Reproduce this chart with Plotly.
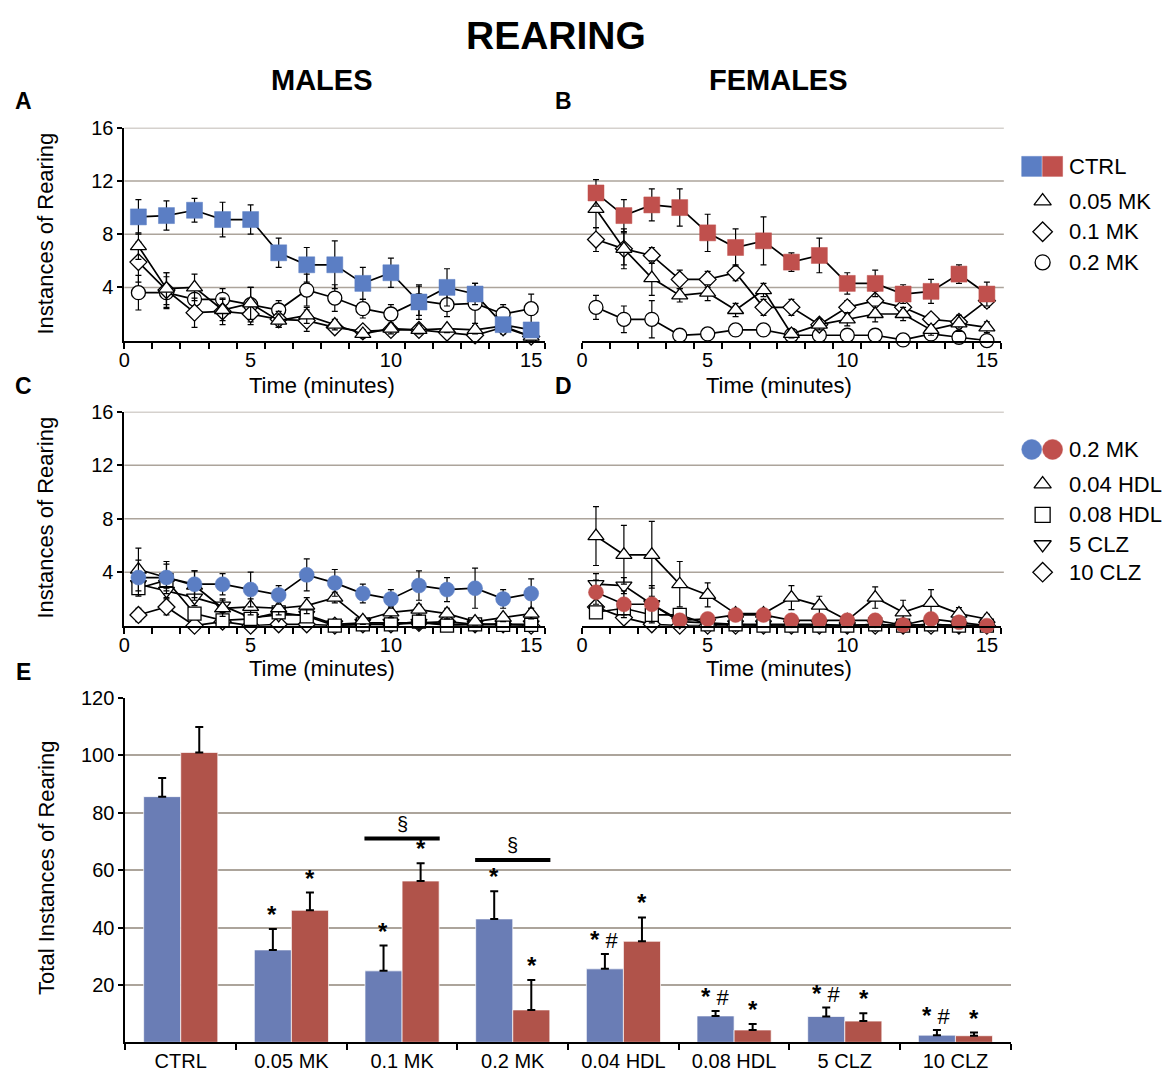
import plotly.graph_objects as go

W, H = 1164, 1074
FONT = "Liberation Sans, Arial, sans-serif"

# ---- time-course data (mean instances of rearing per 1-minute bin, with SEM) ----
minutes = list(range(1, 16))

# Males, panel A
m_ctrl = [9.3, 9.4, 9.8, 9.1, 9.1, 6.6, 5.7, 5.7, 4.3, 5.1, 2.9, 4.0, 3.5, 1.2, 0.8]
m_ctrl_se = [1.3, 1.1, 0.9, 1.3, 1.1, 1.1, 1.3, 1.8, 1.2, 1.1, 1.3, 1.4, 0.8, 0.5, 0.4]
m_mk005 = [7.1, 3.9, 4.0, 2.3, 2.8, 1.5, 1.9, 1.2, 0.5, 0.9, 0.8, 0.9, 0.8, 1.1, 0.3]
m_mk005_se = [1.0, 1.2, 1.0, 0.8, 1.2, 0.5, 0.6, 0.4, 0.3, 0.4, 0.3, 0.3, 0.3, 0.4, 0.3]
m_mk01 = [5.9, 3.8, 2.1, 2.2, 2.0, 1.6, 1.5, 1.0, 0.7, 0.8, 0.8, 0.6, 0.4, 1.0, 0.3]
m_mk01_se = [1.5, 1.3, 1.1, 1.0, 0.8, 0.6, 0.8, 0.4, 0.3, 0.3, 0.3, 0.4, 0.4, 0.5, 0.2]
m_mk02 = [3.6, 3.6, 3.1, 3.1, 2.7, 2.3, 3.8, 3.2, 2.4, 2.0, 3.0, 2.7, 2.8, 2.0, 2.4]
m_mk02_se = [1.3, 1.2, 1.0, 0.8, 1.3, 0.7, 1.2, 1.0, 0.7, 0.7, 1.1, 0.9, 1.5, 0.7, 1.1]

# Females, panel B
f_ctrl = [11.1, 9.4, 10.2, 10.0, 8.1, 7.0, 7.5, 5.9, 6.4, 4.3, 4.3, 3.5, 3.7, 5.0, 3.5]
f_ctrl_se = [1.0, 1.2, 1.2, 1.4, 1.4, 1.4, 1.8, 0.7, 1.3, 0.8, 1.0, 0.7, 0.9, 0.7, 0.9]
f_mk005 = [9.9, 6.9, 4.7, 3.4, 3.6, 2.3, 3.8, 0.5, 1.2, 1.6, 2.0, 2.0, 0.8, 1.3, 1.0]
f_mk005_se = [1.4, 1.5, 1.3, 0.5, 0.6, 0.5, 0.5, 0.3, 0.4, 0.5, 0.6, 0.5, 0.4, 0.6, 0.4]
f_mk01 = [7.6, 6.9, 6.4, 4.6, 4.6, 5.1, 2.5, 2.5, 1.2, 2.5, 3.0, 2.5, 1.6, 1.4, 3.0]
f_mk01_se = [0.9, 1.2, 0.6, 0.7, 0.6, 0.6, 0.6, 0.6, 0.3, 0.5, 0.7, 0.6, 0.4, 0.5, 0.5]
f_mk02 = [2.5, 1.6, 1.6, 0.4, 0.5, 0.8, 0.8, 0.4, 0.4, 0.4, 0.4, 0.05, 0.5, 0.25, 0.0]
f_mk02_se = [0.9, 1.0, 1.4, 0.2, 0.2, 0.2, 0.2, 0.2, 0.2, 0.2, 0.2, 0.1, 0.3, 0.2, 0.1]

# Males, panel C
m_hdl004 = [4.2, 3.6, 3.0, 1.3, 1.4, 1.3, 1.5, 2.1, 0.4, 1.0, 1.2, 0.9, 0.3, 0.6, 0.9]
m_hdl004_se = [1.6, 1.0, 1.1, 0.6, 0.6, 0.5, 0.6, 0.4, 0.3, 0.4, 0.4, 0.4, 0.3, 0.3, 0.4]
m_hdl008 = [2.8, 3.4, 0.9, 0.4, 0.5, 1.0, 0.7, 0.0, 0.1, 0.1, 0.3, 0.0, 0.1, 0.05, 0.05]
m_hdl008_se = [0.6, 0.6, 0.4, 0.3, 0.3, 0.4, 0.3, 0.1, 0.1, 0.1, 0.2, 0.1, 0.1, 0.1, 0.1]
m_clz5 = [3.1, 2.6, 2.1, 1.5, 0.6, 0.8, 0.8, 0.1, 0.2, 0.2, 0.2, 0.1, 0.1, 0.1, 0.1]
m_clz5_se = [0.6, 0.5, 0.6, 0.5, 0.3, 0.3, 0.3, 0.1, 0.1, 0.1, 0.1, 0.1, 0.1, 0.1, 0.1]
m_clz10 = [0.8, 1.4, 0.0, 0.3, 0.0, 0.1, 0.1, 0.0, 0.1, 0.1, 0.2, 0.3, 0.1, 0.1, 0.0]
m_clz10_se = [0.5, 0.6, 0.1, 0.2, 0.1, 0.1, 0.1, 0.1, 0.1, 0.1, 0.1, 0.2, 0.1, 0.1, 0.1]

# Females, panel D
f_hdl004 = [6.7, 5.3, 5.3, 3.1, 2.3, 0.9, 0.9, 2.1, 1.5, 0.4, 2.1, 1.0, 1.7, 0.9, 0.5]
f_hdl004_se = [2.2, 2.2, 2.5, 1.7, 0.9, 0.3, 0.3, 0.9, 0.7, 0.2, 0.8, 0.9, 1.0, 0.45, 0.35]
f_hdl008 = [1.0, 1.3, 0.8, 0.8, 0.1, 0.1, 0.0, 0.0, 0.0, 0.0, 0.1, 0.0, 0.1, 0.0, 0.0]
f_hdl008_se = [0.4, 0.5, 0.4, 0.3, 0.1, 0.1, 0.1, 0.1, 0.1, 0.1, 0.1, 0.1, 0.1, 0.1, 0.1]
f_clz5 = [3.1, 3.0, 1.6, 0.3, 0.2, 0.1, 0.1, 0.1, 0.1, 0.0, 0.1, 0.0, 0.1, 0.0, 0.0]
f_clz5_se = [0.8, 0.6, 0.6, 0.2, 0.1, 0.1, 0.1, 0.1, 0.1, 0.1, 0.1, 0.1, 0.1, 0.1, 0.1]
f_clz10 = [1.4, 0.6, 0.1, 0.0, 0.0, 0.0, 0.0, 0.0, 0.0, 0.0, 0.0, 0.0, 0.0, 0.0, 0.0]
f_clz10_se = [0.4, 0.3, 0.1, 0.1, 0.1, 0.1, 0.1, 0.1, 0.1, 0.1, 0.1, 0.1, 0.1, 0.1, 0.1]

# ---- totals over 15 minutes, panel E ----
groups = ["CTRL", "0.05 MK", "0.1 MK", "0.2 MK", "0.04 HDL", "0.08 HDL", "5 CLZ", "10 CLZ"]
male_total = [85.6, 32.2, 24.9, 43.0, 25.6, 9.2, 9.0, 2.5]
male_total_se = [6.5, 7.3, 8.8, 9.6, 5.2, 1.7, 3.1, 1.8]
female_total = [101.0, 46.0, 56.2, 11.3, 35.2, 4.3, 7.4, 2.3]
female_total_se = [8.9, 6.2, 6.2, 10.4, 8.3, 2.1, 2.7, 1.1]
male_sig = ["", "*", "*", "*", "*#", "*#", "*#", "*#"]
female_sig = ["", "*", "*", "*", "*", "*", "*", "*"]
sex_diff_groups = ["0.1 MK", "0.2 MK"]
sex_diff_bar_y = [71, 63.5]

BLUE_MK = "#5b7ec4"
RED_MK = "#c0504d"
BLUE_BAR = "#6a7db5"
RED_BAR = "#b0534a"
GRID = "#aca49b"
TICK_SIZE = 20
TITLE_SIZE = 22


def px(x):
    return x / W


def py(y):
    return 1 - y / H


fig = go.Figure()


def series(x_ax, y_ax, y, se, symbol, fill="white", size=13, outline="black", lw=1.3):
    fig.add_trace(go.Scatter(
        x=minutes, y=y, xaxis=x_ax, yaxis=y_ax, mode="lines+markers",
        line=dict(color="black", width=1.7),
        marker=dict(symbol=symbol, size=size, color=fill, line=dict(color=outline, width=lw)),
        error_y=dict(type="data", array=se, color="black", thickness=1.2, width=3),
        cliponaxis=False, showlegend=False, hoverinfo="skip"))


# Panel A (males)
series("x", "y", m_mk02, m_mk02_se, "circle", size=14)
series("x", "y", m_mk01, m_mk01_se, "diamond", size=13)
series("x", "y", m_mk005, m_mk005_se, "triangle-up", size=14)
series("x", "y", m_ctrl, m_ctrl_se, "square", fill=BLUE_MK, size=16, outline=BLUE_MK, lw=0.5)
# Panel B (females)
series("x2", "y2", f_mk02, f_mk02_se, "circle", size=14)
series("x2", "y2", f_mk01, f_mk01_se, "diamond", size=13)
series("x2", "y2", f_mk005, f_mk005_se, "triangle-up", size=14)
series("x2", "y2", f_ctrl, f_ctrl_se, "square", fill=RED_MK, size=16, outline=RED_MK, lw=0.5)
# Panel C (males)
series("x3", "y3", m_clz10, m_clz10_se, "diamond", size=13)
series("x3", "y3", m_clz5, m_clz5_se, "triangle-down", size=14)
series("x3", "y3", m_hdl008, m_hdl008_se, "square", size=13)
series("x3", "y3", m_hdl004, m_hdl004_se, "triangle-up", size=14)
series("x3", "y3", m_mk02, m_mk02_se, "circle", fill=BLUE_MK, size=15, outline=BLUE_MK, lw=0.5)
# Panel D (females)
series("x4", "y4", f_clz10, f_clz10_se, "diamond", size=13)
series("x4", "y4", f_clz5, f_clz5_se, "triangle-down", size=14)
series("x4", "y4", f_hdl008, f_hdl008_se, "square", size=13)
series("x4", "y4", f_hdl004, f_hdl004_se, "triangle-up", size=14)
series("x4", "y4", f_mk02, f_mk02_se, "circle", fill=RED_MK, size=15, outline=RED_MK, lw=0.5)

# Panel E (totals)
for vals, errs, col in [(male_total, male_total_se, BLUE_BAR), (female_total, female_total_se, RED_BAR)]:
    fig.add_trace(go.Bar(
        x=groups, y=vals, xaxis="x5", yaxis="y5",
        marker=dict(color=col, line=dict(color="rgba(255,255,255,0.7)", width=1)),
        error_y=dict(type="data", symmetric=False, array=errs, arrayminus=[0] * len(groups),
                     color="black", thickness=2, width=4),
        showlegend=False, hoverinfo="skip"))

# Legend glyphs drawn on their own pixel-scaled axes
leg1 = [("square", BLUE_MK, 1031, 157), ("square", RED_MK, 1052, 157),
        ("triangle-up", "white", 1042, 192), ("diamond", "white", 1042, 223), ("circle", "white", 1042, 254)]
leg2 = [("circle", BLUE_MK, 1031, 443), ("circle", RED_MK, 1052, 443),
        ("triangle-up", "white", 1042, 478), ("square", "white", 1042, 509),
        ("triangle-down", "white", 1042, 539), ("diamond", "white", 1042, 567)]
for sym, col, lx, ly in leg1 + leg2:
    filled = col != "white"
    fig.add_trace(go.Scatter(
        x=[lx], y=[ly], xaxis="x6", yaxis="y6", mode="markers",
        marker=dict(symbol=sym, size=20 if filled else 15, color=col,
                    line=dict(color=col if filled else "black", width=0.5 if filled else 1.3)),
        showlegend=False, hoverinfo="skip", cliponaxis=False))

line_x_common = dict(range=[0.5, 15.5], showline=True, linecolor="black", linewidth=2,
                     tickmode="array", tickvals=[0.5, 5, 10, 15], ticktext=["0", "5", "10", "15"],
                     ticks="", tickfont=dict(size=TICK_SIZE, family=FONT, color="black"), showgrid=False,
                     zeroline=False, fixedrange=True,
                     minor=dict(tickmode="array", tickvals=[0.5 + k for k in range(16)], ticks="outside",
                                ticklen=6, tickwidth=1.5, tickcolor="black", showgrid=False))
line_y_common = dict(range=[0, 16], showline=True, linecolor="black", linewidth=2,
                     tickmode="array", tickvals=[4, 8, 12, 16], ticks="outside", ticklen=5,
                     tickwidth=1.5, tickcolor="black",
                     tickfont=dict(size=TICK_SIZE, family=FONT, color="black"), showgrid=False, zeroline=False)

top_dom = [py(333), py(118)]
mid_dom = [py(621), py(405)]
left_dom = [px(119), px(542)]
right_dom = [px(579), px(1000)]

fig.update_layout(
    width=W, height=H, margin=dict(l=0, r=0, t=0, b=0),
    paper_bgcolor="white", plot_bgcolor="rgba(0,0,0,0)",
    font=dict(family=FONT, color="black"),
    barmode="group", bargap=0.33, bargroupgap=0.0,
    xaxis=dict(domain=left_dom, anchor="y", **line_x_common),
    yaxis=dict(domain=top_dom, anchor="x", **line_y_common),
    xaxis2=dict(domain=right_dom, anchor="y2", **line_x_common),
    yaxis2=dict(domain=top_dom, anchor="x2", range=[0, 16], visible=False),
    xaxis3=dict(domain=left_dom, anchor="y3", **line_x_common),
    yaxis3=dict(domain=mid_dom, anchor="x3", **line_y_common),
    xaxis4=dict(domain=right_dom, anchor="y4", **line_x_common),
    yaxis4=dict(domain=mid_dom, anchor="x4", range=[0, 16], visible=False),
    xaxis5=dict(domain=[px(120), px(1010)], anchor="y5", type="category", showline=True,
                linecolor="black", linewidth=2, ticks="outside", tickson="boundaries", ticklen=6,
                tickwidth=1.5, tickcolor="black", tickfont=dict(size=TICK_SIZE, family=FONT, color="black"),
                showgrid=False),
    yaxis5=dict(domain=[py(1042), py(694)], anchor="x5", range=[0, 120], showline=True,
                linecolor="black", linewidth=2, tickmode="array", tickvals=[20, 40, 60, 80, 100, 120],
                ticks="outside", ticklen=5, tickwidth=1.5, tickcolor="black",
                tickfont=dict(size=TICK_SIZE, family=FONT, color="black"), showgrid=True,
                gridcolor=GRID, gridwidth=1.5, zeroline=False),
    xaxis6=dict(domain=[px(1005), 1], anchor="y6", range=[1005, 1164], visible=False),
    yaxis6=dict(domain=[py(600), py(130)], anchor="x6", range=[600, 130], visible=False),
)

shapes = []
for v in [4, 8, 12, 16]:
    for yr in ["y", "y3"]:
        shapes.append(dict(type="line", xref="paper", yref=yr, x0=px(119), x1=px(1003), y0=v, y1=v,
                           line=dict(color=GRID, width=1.5), layer="below"))
# sex-difference bars over the paired columns
for g, yb in zip(sex_diff_groups, sex_diff_bar_y):
    i = groups.index(g)
    shapes.append(dict(type="line", xref="x5", yref="y5", x0=i - 0.34, x1=i + 0.34, y0=yb, y1=yb,
                       line=dict(color="black", width=4)))
fig.update_layout(shapes=shapes)

ann = []


def text(x, y, s, size, bold=False, xanchor="center", **kw):
    ann.append(dict(x=px(x), y=py(y), xref="paper", yref="paper", text=f"<b>{s}</b>" if bold else s,
                    showarrow=False, xanchor=xanchor, yanchor="middle",
                    font=dict(size=size, family=FONT, color="black"), **kw))


text(553, 25, "REARING", 39, bold=True)
text(318, 70, "MALES", 29, bold=True)
text(777, 70, "FEMALES", 29, bold=True)
for lab, lx, ly in [("A", 18, 91), ("B", 560, 91), ("C", 18, 379), ("D", 560, 379), ("E", 18, 668)]:
    text(lx, ly, lab, 23, bold=True)
for tx, ty in [(318, 378), (777, 378), (318, 664), (777, 664)]:
    text(tx, ty, "Time (minutes)", TITLE_SIZE)
text(40, 225, "Instances of Rearing", TITLE_SIZE, textangle=-90)
text(40, 512, "Instances of Rearing", TITLE_SIZE, textangle=-90)
text(40, 866, "Total Instances of Rearing", TITLE_SIZE, textangle=-90)

for lab, ly in [("CTRL", 157), ("0.05 MK", 192), ("0.1 MK", 223), ("0.2 MK", 254),
                ("0.2 MK", 443), ("0.04 HDL", 478), ("0.08 HDL", 509), ("5 CLZ", 539), ("10 CLZ", 567)]:
    text(1066, ly, lab, TITLE_SIZE, xanchor="left")

# significance markers above the bars
for i, g in enumerate(groups):
    for val, se, sig, dx in [(male_total[i], male_total_se[i], male_sig[i], -19),
                             (female_total[i], female_total_se[i], female_sig[i], 19)]:
        if sig:
            label = "<b>*</b>" + ("<span style='font-size:22px'> #</span>" if sig.endswith("#") else "")
            ann.append(dict(x=g, y=val + se, xref="x5", yref="y5", text=label,
                            showarrow=False, xshift=dx, yanchor="bottom", yshift=-1,
                            font=dict(size=24, family=FONT, color="black")))
for g, yb in zip(sex_diff_groups, sex_diff_bar_y):
    ann.append(dict(x=g, y=yb, xref="x5", yref="y5", text="§", showarrow=False, yanchor="bottom",
                    yshift=2, font=dict(size=20, family=FONT, color="black")))

fig.update_layout(annotations=ann)
fig.write_html("out.html")
